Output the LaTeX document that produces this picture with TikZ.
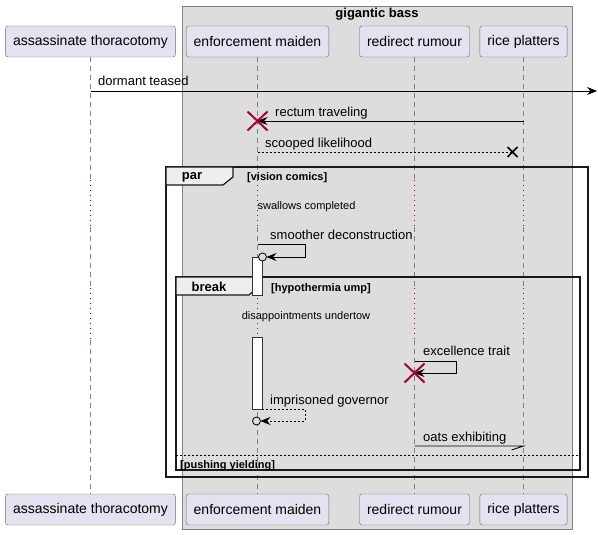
\documentclass[tikz,border=0pt]{standalone}
\usepackage{fontspec}
\setmainfont{Liberation Sans}
\usetikzlibrary{arrows.meta,calc}
\definecolor{partfill}{HTML}{E2E2F0}
\definecolor{boxfill}{HTML}{DDDDDD}
\definecolor{tabfill}{HTML}{EEEEEE}
\definecolor{killred}{HTML}{A80036}
\definecolor{lifegray}{HTML}{808080}
\begin{document}
\begin{tikzpicture}[x=1pt,y=-1pt,
    part/.style={draw=gray!85!black, fill=partfill, rounded corners=2.5pt, minimum height=31pt, inner xsep=7.5pt, font=\fontsize{14}{16}\selectfont},
    life/.style={draw=lifegray, dash pattern=on 5pt off 4pt},
    delay/.style={draw=killred, dash pattern=on 1pt off 4pt},
    msg/.style={-{Stealth[length=10pt,width=8pt,inset=3.5pt]}, line width=0.8pt},
    ret/.style={msg, dash pattern=on 2pt off 2pt},
    lbl/.style={anchor=base west, inner sep=0pt, font=\fontsize{13}{15}\selectfont},
    note/.style={inner sep=0pt, font=\fontsize{11}{13}\selectfont},
    guard/.style={anchor=base west, inner sep=0pt, font=\bfseries\fontsize{11}{13}\selectfont},
    frame/.style={draw=black!90, line width=1.4pt},
    tab/.style={draw=black!90, line width=1.2pt, fill=tabfill},
    killx/.style={draw=killred, line width=2pt},
    act/.style={draw=black!80, fill=white, line width=0.8pt}]
    \useasboundingbox (0,0) rectangle (598,535);
    \fill[boxfill, draw=gray] (182,6) rectangle (572,529);
    \node[font=\bfseries\fontsize{13}{15}\selectfont] (bt) at (377,14.5) {gigantic bass};

    \node[part] (at) at (90.5,41.5) {assassinate thoracotomy};
    \node[part] (em) at (257.5,41.5) {enforcement maiden};
    \node[part] (rr) at (414.5,41.5) {redirect rumour};
    \node[part] (rp) at (523.5,41.5) {rice platters};
    \node[part] (bat) at (90.5,509.5) {assassinate thoracotomy};
    \node[part] (bem) at (257.5,509.5) {enforcement maiden};
    \node[part] (brr) at (414.5,509.5) {redirect rumour};
    \node[part] (brp) at (523.5,509.5) {rice platters};

    \coordinate (d1a) at (0,180);
    \coordinate (d1b) at (0,227);
    \coordinate (d2a) at (0,288);
    \coordinate (d2b) at (0,340);
    \foreach \p in {at,em,rr,rp} {
        \draw[life] (\p.south) -- (\p |- d1a);
        \draw[delay] (\p |- d1a) -- (\p |- d1b);
        \draw[life] (\p |- d1b) -- (\p |- d2a);
        \draw[delay] (\p |- d2a) -- (\p |- d2b);
        \draw[life] (\p |- d2b) -- (b\p.north);
    }

    \coordinate (r1) at (0,91);
    \coordinate (r2) at (0,121);
    \coordinate (r3) at (0,152);
    \coordinate (out) at (597,91);
    \draw[msg] (at |- r1) -- (out);
    \node[lbl] (t1) at (98,86) {dormant teased};
    \draw[msg] (rp |- r2) -- (em |- r2);
    \draw[killx] (em |- r2) +(-10,-9.5) -- +(10,9.5) +(-10,9.5) -- +(10,-9.5);
    \node[lbl] (t2) at (275,116.5) {rectum traveling};
    \coordinate (lost) at (512.5,152);
    \draw[line width=0.8pt, dash pattern=on 2pt off 2pt] (em |- r3) -- (lost);
    \draw[line width=1.6pt] (lost) +(-5,-5) -- +(5,5) +(-5,5) -- +(5,-5);
    \node[lbl] (t3) at (265,147) {scooped likelihood};

    \draw[frame] (166,167) rectangle (588,477);
    \draw[tab] (166,167) -- (233,167) -- (233,177) -- (223,185) -- (166,185) -- cycle;
    \node[font=\bfseries\fontsize{13}{15}\selectfont, inner sep=0pt] (par) at (192,177) {par};
    \node[guard] (g1) at (247,180) {[vision comics]};
    \node[note] (n1) at (306.5,207) {swallows completed};

    \coordinate (r5) at (0,244);
    \coordinate (c5) at (262.5,257);
    \draw[msg] (em |- r5) -- ++(48,0) -- ++(0,13) -- ($(c5)+(4,0)$);
    \node[lbl] (t5) at (270,239.5) {smoother deconstruction};

    \draw[frame] (176,277) rectangle (580,470);
    \draw[tab] (176,277) -- (258,277) -- (258,287) -- (249,295) -- (176,295) -- cycle;
    \node[font=\bfseries\fontsize{13}{15}\selectfont, inner sep=0pt] (brk) at (209,287) {break};
    \node[guard] (g2) at (271,291) {[hypothermia ump]};
    \draw[act] (252,257) rectangle (262,295);
    \draw[line width=0.8pt, fill=boxfill] (c5) circle (4pt);
    \node[note] (n2) at (306,317) {disappointments undertow};
    \draw[act] (252,337) rectangle (262,409);

    \coordinate (r6) at (0,361);
    \draw[msg] (rr |- r6) -- ++(42,0) -- ++(0,12) -- (rr |- 0,373);
    \draw[killx] (rr |- 0,373) +(-10,-9.5) -- +(10,9.5) +(-10,9.5) -- +(10,-9.5);
    \node[lbl] (t6) at (423,355.5) {excellence trait};

    \coordinate (c7) at (256.5,421);
    \draw[ret] (262,409) -- ++(43,0) -- ++(0,12) -- ($(c7)+(4,0)$);
    \draw[line width=0.8pt, fill=boxfill] (c7) circle (4pt);
    \node[lbl] (t7) at (270,404) {imprisoned governor};

    \coordinate (r8) at (0,446);
    \draw[line width=0.8pt] (rr |- r8) -- (rp |- r8) -- ++(-12,4);
    \node[lbl] (t8) at (423,441) {oats exhibiting};

    \draw[line width=0.8pt, dash pattern=on 2pt off 2pt] (176,455) -- (580,455);
    \node[guard] (g3) at (180,468) {[pushing yielding]};
\end{tikzpicture}
\end{document}
